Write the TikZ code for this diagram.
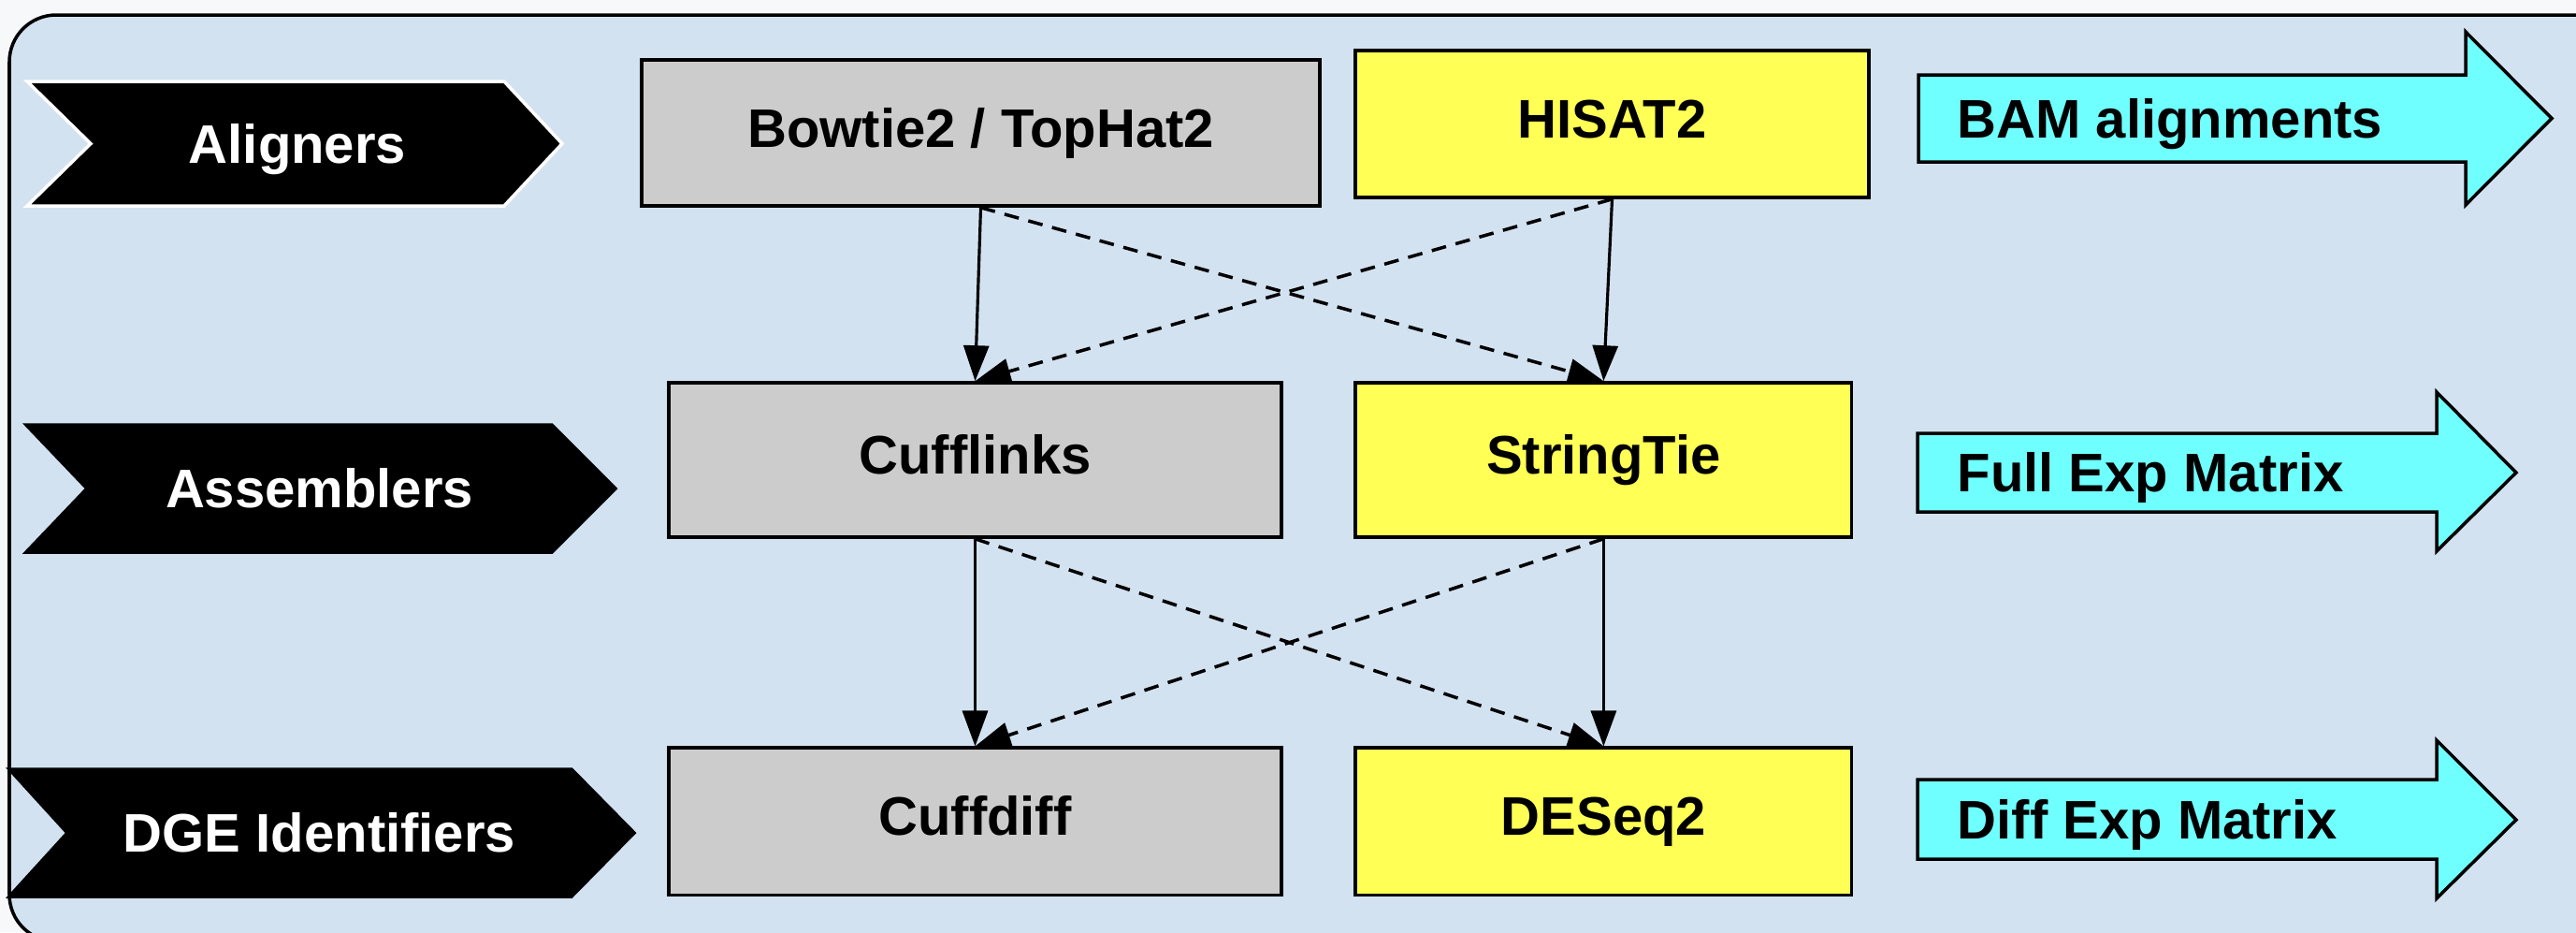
\documentclass[tikz,border=0pt]{standalone}
\usepackage{fontspec}
\setmainfont[Ligatures={NoCommon}]{Liberation Sans}
\usetikzlibrary{arrows.meta,positioning}

\definecolor{pagebg}{RGB}{247,248,250}
\definecolor{panel}{RGB}{211,226,240}
\definecolor{toolgray}{RGB}{204,204,204}
\definecolor{toolyellow}{RGB}{255,255,85}
\definecolor{outcyan}{RGB}{112,255,255}

\begin{document}
\begin{tikzpicture}[x=0.01cm, y=-0.01cm, >={Triangle[length=0.38cm,width=0.27cm]}, line join=miter, font=\fontsize{16.5}{20}\selectfont\bfseries]

    \tikzstyle{tool}=[draw=black, line width=1pt, text=black, inner sep=0pt, text height=11.8pt, text depth=0.11cm]
    \tikzstyle{legacy box}=[tool, fill=toolgray]
    \tikzstyle{modern box}=[tool, fill=toolyellow]
    \tikzstyle{stage}=[fill=black, line width=1pt]
    \tikzstyle{stage text}=[text=white, inner sep=0pt, text height=11.8pt, text depth=0pt]
    \tikzstyle{output}=[fill=outcyan, draw=black, line width=1pt]
    \tikzstyle{output text}=[anchor=west, inner sep=0pt, text height=11.8pt, text depth=0pt]
    \tikzstyle{main}=[->, line width=0.9pt]
    \tikzstyle{alt}=[->, line width=1pt, dash pattern=on 4.5pt off 3pt]

    % page and panel
    \clip (0,0) rectangle (2754,996);
    \fill[pagebg] (0,0) rectangle (2754,996);
    \draw[fill=panel, line width=1pt, rounded corners=0.5cm] (10,16) rectangle (2800,1006);

    % stage labels
    \draw[stage, draw=white] (29,87) -- (539,87) -- (601,153.5) -- (539,220) -- (29,220) -- (97,153.5) -- cycle;
    \draw[stage] (28,454) -- (590,454) -- (658,522) -- (590,590) -- (28,590) -- (93,522) -- cycle;
    \draw[stage] (10,822) -- (611,822) -- (678,890) -- (611,958) -- (10,958) -- (72,890) -- cycle;
    \node[stage text] (aligners)   at (318,153.5) {Aligners};
    \node[stage text] (assemblers) at (341.5,522) {Assemblers};
    \node[stage text] (dge)        at (341.5,890) {DGE Identifiers};

    % tools
    \node[legacy box, minimum width=7.25cm, minimum height=1.56cm] (bowtie) at (1048.5,142)   {Bowtie2 / TopHat2};
    \node[modern box, minimum width=5.49cm, minimum height=1.57cm] (hisat)  at (1723.5,132.5) {HISAT2};
    \node[legacy box, minimum width=6.55cm, minimum height=1.65cm] (cufflinks) at (1042.5,491.5) {Cufflinks};
    \node[modern box, minimum width=5.30cm, minimum height=1.65cm] (stringtie) [right of=cufflinks, node distance=6.715cm] {StringTie};
    \node[legacy box, minimum width=6.55cm, minimum height=1.57cm] (cuffdiff)  [below of=cufflinks, node distance=3.86cm]  {Cuffdiff};
    \node[modern box, minimum width=5.30cm, minimum height=1.57cm] (deseq)     [right of=cuffdiff, node distance=6.715cm]  {DESeq2};

    \path (bowtie.south)    edge[main] (cufflinks.north)
          (hisat.south)     edge[main] (stringtie.north)
          (bowtie.south)    edge[alt]  (stringtie.north)
          (hisat.south)     edge[alt]  (cufflinks.north)
          (cufflinks.south) edge[main] (cuffdiff.north)
          (stringtie.south) edge[main] (deseq.north)
          (cufflinks.south) edge[alt]  (deseq.north)
          (stringtie.south) edge[alt]  (cuffdiff.north)
    ;

    % outputs
    \draw[output] (2051,80) -- (2636,80) -- (2636,34) -- (2728,126.5) -- (2636,219) -- (2636,173) -- (2051,173) -- cycle;
    \draw[output] (2050,463) -- (2605,463) -- (2605,419) -- (2690,505) -- (2605,589) -- (2605,547) -- (2050,547) -- cycle;
    \draw[output] (2050,833) -- (2605,833) -- (2605,791) -- (2690,876) -- (2605,960) -- (2605,918) -- (2050,918) -- cycle;
    \node[output text] (bam)  at (2092,126.5) {BAM alignments};
    \node[output text] (full) at (2092,505)   {Full Exp Matrix};
    \node[output text] (diff) at (2092,876)   {Diff Exp Matrix};
\end{tikzpicture}
\end{document}
